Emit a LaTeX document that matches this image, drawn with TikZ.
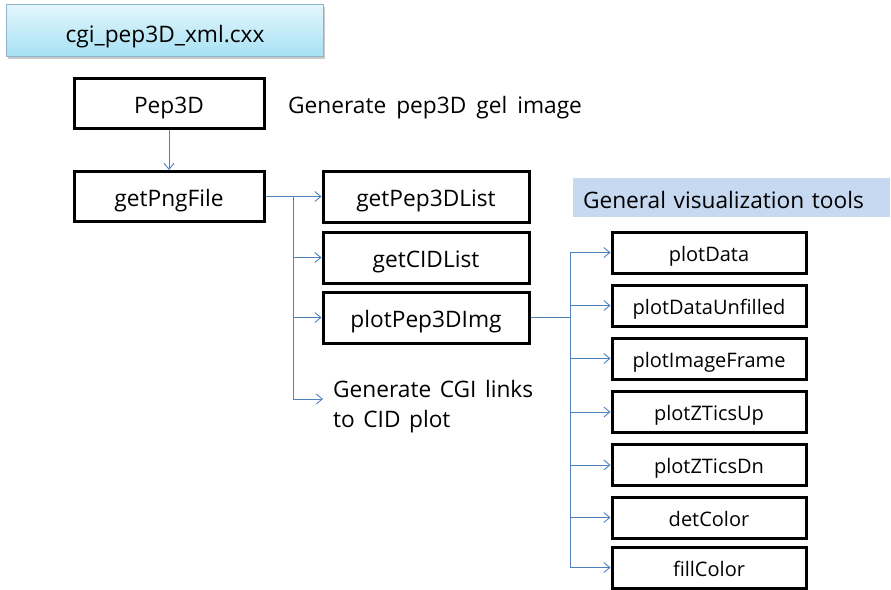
\documentclass[tikz,border=0pt]{standalone}
\usepackage{fontspec}
\setmainfont{Open Sans}
\usetikzlibrary{arrows.meta,shadows}
\definecolor{conn}{HTML}{4F81BD}
\definecolor{titletop}{HTML}{E4F6FC}
\definecolor{titlebot}{HTML}{A6E1F4}
\definecolor{titleline}{HTML}{8DB4C9}
\definecolor{gvfill}{HTML}{C6D9F1}
\tikzset{
  x=1pt, y=-1pt,
  txt/.style={font=\fontsize{22.7}{28}\selectfont, text=black},
  box/.style={txt, draw=black, line width=3pt, fill=white, inner sep=0pt, text height=20.5pt, text depth=0pt},
  lbox/.style={box, minimum width=190pt, minimum height=50pt},
  mbox/.style={box, minimum width=206pt, minimum height=51pt},
  rbox/.style={box, minimum width=194pt, minimum height=41pt, font=\fontsize{20}{24}\selectfont, text height=17.2pt},
  conn/.style={draw=conn, line width=0.9pt},
  arr/.style={conn, -{Straight Barb[length=6pt, width=10pt, line width=0.9pt]}},
}
\begin{document}
\begin{tikzpicture}
\useasboundingbox (0,0) rectangle (891,589);
% title
\node[txt, draw=titleline, line width=0.8pt, top color=titletop, bottom color=titlebot,
      minimum width=317pt, minimum height=52pt, inner sep=0pt, text height=23.2pt, text depth=0pt,
      drop shadow={shadow xshift=1.5pt, shadow yshift=-2pt, opacity=0.35, fill=black!60}]
      (title) at (165,30.5) {cgi\_pep3D\_xml.cxx};
% left column
\node[lbox] (pep) at (169,103) {Pep3D};
\node[lbox] (png) at (169,196.5) {getPngFile};
\node[txt, anchor=base west, inner sep=0pt] (gen) at (288,113) {\spaceskip=10pt\relax Generate pep3D gel image};
% middle column
\node[mbox] (list) at (426,196.5) {getPep3DList};
\node[mbox] (cid) at (426,257.5) {getCIDList};
\node[mbox] (img) at (426,317.5) {plotPep3DImg};
\node[txt, anchor=base west, align=left, inner sep=0pt, font=\fontsize{22.7}{30}\selectfont] (cgi) at (333,427) {\spaceskip=8.5pt\relax Generate CGI links\\\spaceskip=8.5pt\relax to CID plot};
\coordinate (cgiend) at (323,399);
% general tools
\node[txt, fill=gvfill, minimum width=317pt, minimum height=39pt, text width=297pt, align=left, inner sep=0pt, inner xsep=10pt, text height=21.2pt, text depth=0pt] (gv) at (731.5,197.5) {General visualization tools};
% right column
\node[rbox] (r1) at (709,252.5) {plotData};
\node[rbox] (r2) at (709,305.5) {plotDataUnfilled};
\node[rbox] (r3) at (709,358.5) {plotImageFrame};
\node[rbox] (r4) at (709,412) {plotZTicsUp};
\node[rbox] (r5) at (709,465) {plotZTicsDn};
\node[rbox] (r6) at (709,517.5) {detColor};
\node[rbox] (r7) at (709,567.5) {fillColor};
% connectors
\draw[arr] (pep.south) -- (png.north);
\draw[arr] (png.east) -- (list.west);
\coordinate (v1) at (293,196.5);
\draw[conn] (v1) -- (293,399);
\draw[arr] (v1 |- cid.west) -- (cid.west);
\draw[arr] (v1 |- img.west) -- (img.west);
\draw[arr] (293,399) -- (cgiend);
\coordinate (v2) at (570,317.5);
\draw[conn] (img.east) -- (v2);
\draw[conn] (v2 |- r1.west) -- (v2 |- r7.west);
\foreach \n in {r1,r2,r3,r4,r5,r6,r7} {
  \draw[arr] (v2 |- \n.west) -- (\n.west);
}
\end{tikzpicture}
\end{document}
